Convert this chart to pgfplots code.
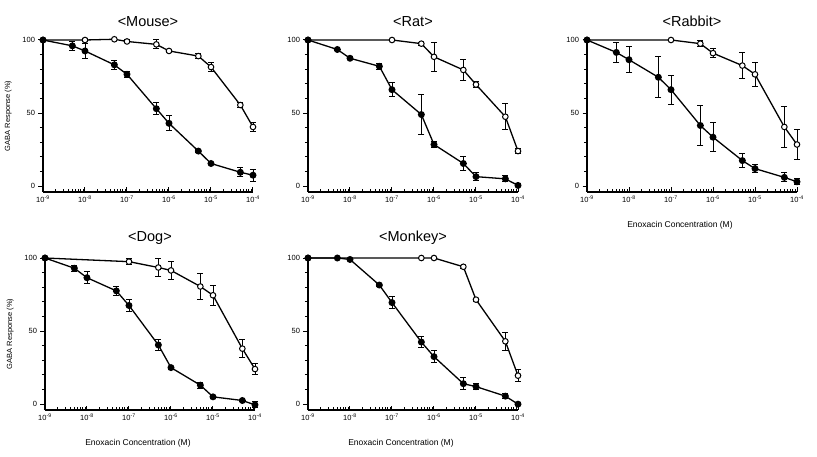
\documentclass[border=0pt]{standalone}
\usepackage{fontspec}
\setmainfont{Liberation Sans}
\usepackage{pgfplots}
\pgfplotsset{compat=1.18}

\pgfplotsset{
  every axis/.append style={
    xmode=log, scale only axis, width=210pt, height=152pt,
    xmin=1e-9, xmax=1e-4, ymin=-4, ymax=100,
    axis lines=left, axis line style={-, black, line width=1.2pt},
    xtick align=inside, ytick align=outside,
    tick style={black, line width=1pt},
    major tick length=4.5pt, minor tick length=3pt,
    xtick={1e-9,1e-8,1e-7,1e-6,1e-5,1e-4},
    minor xtick={2e-9,3e-9,4e-9,5e-9,6e-9,7e-9,8e-9,9e-9,
                 2e-8,3e-8,4e-8,5e-8,6e-8,7e-8,8e-8,9e-8,
                 2e-7,3e-7,4e-7,5e-7,6e-7,7e-7,8e-7,9e-7,
                 2e-6,3e-6,4e-6,5e-6,6e-6,7e-6,8e-6,9e-6,
                 2e-5,3e-5,4e-5,5e-5,6e-5,7e-5,8e-5,9e-5},
    xticklabels={10\textsuperscript{-9},10\textsuperscript{-8},10\textsuperscript{-7},10\textsuperscript{-6},10\textsuperscript{-5},10\textsuperscript{-4}},
    ytick={0,50,100}, yticklabels={0,50,100},
    minor ytick={10,20,30,40,60,70,80,90},
    ticklabel style={font=\fontsize{7.5}{8}\selectfont},
    title style={font=\fontsize{14.5}{16}\selectfont, yshift=4pt},
    ylabel style={font=\fontsize{7.5}{8}\selectfont},
    ylabel shift=4pt,
    xlabel style={font=\fontsize{8.5}{9}\selectfont, yshift=-12pt, xshift=-12pt},
    anchor=south west, clip=false,
  },
  every axis plot/.append style={black, line width=1.3pt, mark=*, mark size=2.8pt},
}

\begin{document}
\begin{tikzpicture}
\path (0,0) rectangle (817pt,-457pt);

% Mouse
\begin{axis}[at={(43pt,-192pt)}, title={<Mouse>}, ylabel={GABA Response (\%)}]
\addplot[mark options={fill=white, line width=1pt}, error bars/.cd, y dir=both, y explicit, error mark options={rotate=90, mark size=3pt, line width=1pt}] table[x=x, y=y, y error=e] {
x y e
1e-9 100 0
1e-8 100 1
5e-8 100.5 0
1e-7 99 1
5e-7 97 3
1e-6 92.5 1
5e-6 89 1.5
1e-5 81.5 3
5e-5 55.5 2
1e-4 40.5 3
};
\addplot[mark options={fill=black}, error bars/.cd, y dir=both, y explicit, error mark options={rotate=90, mark size=3pt, line width=1pt}] table[x=x, y=y, y error=e] {
x y e
1e-9 100 0
5e-9 96 3
1e-8 92.5 5
5e-8 83 3
1e-7 76.5 2
5e-7 53 4
1e-6 43 5
5e-6 24 1
1e-5 15.5 1
5e-5 9.5 3
1e-4 7.5 4
};
\end{axis}

% Rat
\begin{axis}[at={(308pt,-192pt)}, title={<Rat>}]
\addplot[mark options={fill=white, line width=1pt}, error bars/.cd, y dir=both, y explicit, error mark options={rotate=90, mark size=3pt, line width=1pt}] table[x=x, y=y, y error=e] {
x y e
1e-9 100 0
1e-7 100 0
5e-7 97.5 1
1e-6 88.5 10
5e-6 79.5 7
1e-5 69.5 2
5e-5 47.5 9
1e-4 24 2
};
\addplot[mark options={fill=black}, error bars/.cd, y dir=both, y explicit, error mark options={rotate=90, mark size=3pt, line width=1pt}] table[x=x, y=y, y error=e] {
x y e
1e-9 100 0
5e-9 93.5 1
1e-8 87.5 1
5e-8 82 2
1e-7 66 5
5e-7 49 14
1e-6 28.5 2
5e-6 15.5 5
1e-5 6.5 2.5
5e-5 5 2
1e-4 0.5 1
};
\end{axis}

% Rabbit
\begin{axis}[at={(587pt,-192pt)}, title={<Rabbit>}, xlabel={Enoxacin Concentration (M)}]
\addplot[mark options={fill=white, line width=1pt}, error bars/.cd, y dir=both, y explicit, error mark options={rotate=90, mark size=3pt, line width=1pt}] table[x=x, y=y, y error=e] {
x y e
1e-9 100 0
1e-7 100 0
5e-7 97.5 2
1e-6 91 3
5e-6 82.5 9
1e-5 76.5 8
5e-5 40.5 14
1e-4 28.5 10
};
\addplot[mark options={fill=black}, error bars/.cd, y dir=both, y explicit, error mark options={rotate=90, mark size=3pt, line width=1pt}] table[x=x, y=y, y error=e] {
x y e
1e-9 100 0
5e-9 91.5 7
1e-8 86.5 9
5e-8 74.5 14
1e-7 66 10
5e-7 41.5 14
1e-6 33.5 10
5e-6 17.5 5
1e-5 12 3
5e-5 6 3
1e-4 3 2
};
\end{axis}

% Dog
\begin{axis}[at={(45pt,-410pt)}, title={<Dog>}, ylabel={GABA Response (\%)}, xlabel={Enoxacin Concentration (M)}]
\addplot[mark options={fill=white, line width=1pt}, error bars/.cd, y dir=both, y explicit, error mark options={rotate=90, mark size=3pt, line width=1pt}] table[x=x, y=y, y error=e] {
x y e
1e-9 100 0
1e-7 97.5 2
5e-7 93.5 6
1e-6 91.5 6
5e-6 80.5 9
1e-5 74.5 7
5e-5 38 6
1e-4 24 4
};
\addplot[mark options={fill=black}, error bars/.cd, y dir=both, y explicit, error mark options={rotate=90, mark size=3pt, line width=1pt}] table[x=x, y=y, y error=e] {
x y e
1e-9 100 0
5e-9 93 2
1e-8 86.5 4
5e-8 77.5 3
1e-7 67.5 4
5e-7 40.5 4
1e-6 25 1
5e-6 13 2
1e-5 5 1
5e-5 2.5 1
1e-4 -0.5 2
};
\end{axis}

% Monkey
\begin{axis}[at={(308pt,-410pt)}, title={<Monkey>}, xlabel={Enoxacin Concentration (M)}]
\addplot[mark options={fill=white, line width=1pt}, error bars/.cd, y dir=both, y explicit, error mark options={rotate=90, mark size=3pt, line width=1pt}] table[x=x, y=y, y error=e] {
x y e
1e-9 100 0
5e-7 100 0
1e-6 100 0
5e-6 94 1
1e-5 71.5 1
5e-5 43 6
1e-4 19.5 4
};
\addplot[mark options={fill=black}, error bars/.cd, y dir=both, y explicit, error mark options={rotate=90, mark size=3pt, line width=1pt}] table[x=x, y=y, y error=e] {
x y e
1e-9 100 0
5e-9 100 0
1e-8 99 1
5e-8 81.5 1
1e-7 69.5 4
5e-7 42.5 4
1e-6 32.5 4
5e-6 14 4
1e-5 12 2
5e-5 5.5 1.5
1e-4 0 1
};
\end{axis}
\end{tikzpicture}
\end{document}
